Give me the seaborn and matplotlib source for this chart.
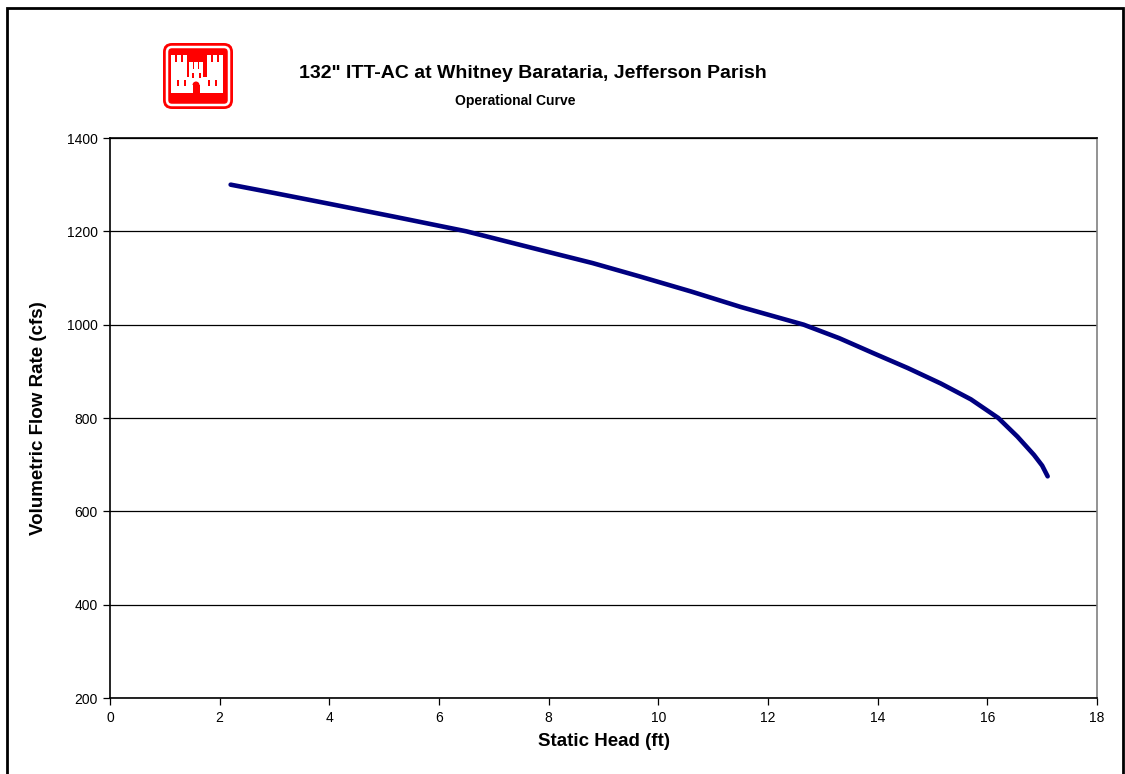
import numpy as np
import pandas as pd
import seaborn as sns
from matplotlib import pyplot as plt
from matplotlib import patches

# operational curve
static_head = [2.2, 3.0, 4.0, 5.2, 6.5, 7.85, 8.8, 9.67, 10.6, 11.5, 12.65,
               13.3, 13.92, 14.55, 15.15, 15.7, 16.2, 16.55, 16.85, 17.0, 17.1]
flow_rate = [1300, 1282, 1259, 1231, 1200, 1160, 1132, 1103, 1071, 1038, 1000,
             971, 939, 907, 874, 840, 800, 760, 721, 698, 675]

x_ticks = [0, 2, 4, 6, 8, 10, 12, 14, 16, 18]
y_ticks = [200, 400, 600, 800, 1000, 1200, 1400]

TITLE = '132" ITT-AC at Whitney Barataria, Jefferson Parish'
SUBTITLE = "Operational Curve"

RED = "#ff0000"


def draw_logo(fig):
    # Corps of Engineers castle, drawn roughly
    lax = fig.add_axes([162 / 1125, 1 - 110 / 774, 72 / 1125, 68 / 774])
    lax.set_xlim(0, 72)
    lax.set_ylim(0, 68)
    lax.axis("off")
    lax.add_patch(patches.FancyBboxPatch((1, 1), 70, 66, boxstyle="round,pad=0,rounding_size=9",
                                         fc=RED, ec="none"))
    lax.add_patch(patches.FancyBboxPatch((5, 5), 62, 58, boxstyle="round,pad=0,rounding_size=5",
                                         fc="none", ec="white", lw=1.8))
    blocks = [(9, 17, 52, 16),   # wall
              (9, 17, 16, 31),   # left tower
              (45, 17, 16, 31),  # right tower
              (27, 17, 14, 24)]  # centre tower
    for x0, y0, w, h in blocks:
        lax.add_patch(patches.Rectangle((x0, y0), w, h, fc="white", ec="none"))
    for x0 in [9, 15, 21]:
        lax.add_patch(patches.Rectangle((x0, 47), 4, 8, fc="white", ec="none"))
    for x0 in [45, 51, 57]:
        lax.add_patch(patches.Rectangle((x0, 47), 4, 8, fc="white", ec="none"))
    for x0 in [27, 32, 37]:
        lax.add_patch(patches.Rectangle((x0, 40), 4, 8, fc="white", ec="none"))
    lax.add_patch(patches.Rectangle((30.5, 17), 7, 8, fc=RED, ec="none"))
    lax.add_patch(patches.Wedge((34, 25), 3.5, 0, 180, fc=RED, ec="none"))
    for x0 in [15, 22, 46, 53]:
        lax.add_patch(patches.Rectangle((x0, 24), 1.6, 6, fc=RED, ec="none"))
    for x0 in [30, 37]:
        lax.add_patch(patches.Rectangle((x0, 32), 1.6, 5, fc=RED, ec="none"))


def main():
    sns.set_theme(style="white")
    plt.rcParams["font.family"] = ["Liberation Sans", "DejaVu Sans"]
    plt.rcParams.update({"text.color": "black", "axes.labelcolor": "black",
                         "xtick.color": "black", "ytick.color": "black"})

    df = pd.DataFrame({"head": static_head, "flow": flow_rate})

    fig = plt.figure(figsize=(11.25, 7.74), dpi=100)
    ax = fig.add_axes([110 / 1125, 1 - 698 / 774, 987 / 1125, 560 / 774])

    sns.lineplot(data=df, x="head", y="flow", ax=ax, color="#000080", lw=3.3,
                 solid_capstyle="round", solid_joinstyle="round", sort=False)

    ax.set_xlim(0, 18)
    ax.set_ylim(200, 1400)
    ax.set_xticks(x_ticks)
    ax.set_yticks(y_ticks)
    ax.yaxis.grid(True, color="black", lw=0.9)
    ax.xaxis.grid(False)
    ax.tick_params(axis="both", direction="out", length=5, width=0.9, color="black",
                   labelsize=10, pad=4, left=True, bottom=True)
    for side in ["left", "bottom", "top"]:
        ax.spines[side].set_color("black")
        ax.spines[side].set_linewidth(1.2)
    ax.spines["right"].set_color("#808080")
    ax.spines["right"].set_linewidth(1.2)

    ax.set_xlabel("Static Head (ft)", fontsize=13.5, fontweight="bold", labelpad=6)
    ax.set_ylabel("Volumetric Flow Rate (cfs)", fontsize=13.5, fontweight="bold", labelpad=14)

    fig.text(533 / 1125, 1 - 73 / 774, TITLE, ha="center", va="center",
             fontsize=14, fontweight="bold")
    fig.text(515 / 1125, 1 - 101 / 774, SUBTITLE, ha="center", va="center",
             fontsize=10, fontweight="bold")

    draw_logo(fig)

    fig.patches.append(patches.Rectangle((7 / 1125, -0.01), 1116 / 1125, 1.01 - 8 / 774,
                                         transform=fig.transFigure, fill=False,
                                         ec="black", lw=2))

    fig.savefig("out.png", dpi=100)
    plt.close(fig)


if __name__ == "__main__":
    main()
